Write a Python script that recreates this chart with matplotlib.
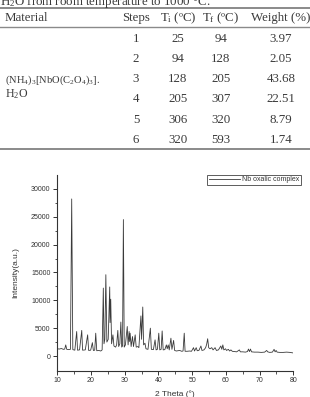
import matplotlib
matplotlib.use("Agg")
import matplotlib.pyplot as plt
from matplotlib.lines import Line2D

plt.rcParams['mathtext.fontset'] = 'custom'
plt.rcParams['mathtext.rm'] = 'Liberation Serif'
plt.rcParams['mathtext.it'] = 'Liberation Serif:italic'

# ---------------- table data ----------------
caption = "H$_\\mathregular{2}$O from room temperature to 1000 °C."
headers = ["Material", "Steps", "T$_\\mathregular{i}$ (ºC)", "T$_\\mathregular{f}$ (ºC)", "Weight (%)"]
material_lines = ["(NH$_\\mathregular{4}$)$_\\mathregular{3}$[NbO(C$_\\mathregular{2}$O$_\\mathregular{4}$)$_\\mathregular{3}$].",
                  "H$_\\mathregular{2}$O"]
steps = [1, 2, 3, 4, 5, 6]
t_initial = [25, 94, 128, 205, 306, 320]
t_final = [94, 128, 205, 307, 320, 593]
weight_loss = ["3.97", "2.05", "43.68", "22.51", "8.79", "1.74"]

# ---------------- XRD trace (vertices) ----------------
two_theta = [10.0, 10.6, 11.2, 11.8, 12.2, 12.5, 12.8, 13.3, 13.9, 14.27, 14.6, 15.2, 15.75, 16.0,
             16.6, 17.25, 17.5, 18.3, 19.0, 19.3, 19.9, 20.4, 20.7, 21.1, 21.4, 21.7, 22.3, 22.9,
             23.3, 23.65, 23.85, 24.1, 24.4, 24.7, 25.1, 25.55, 25.65, 25.85, 26.1, 26.5, 26.8,
             27.3, 27.6, 27.95, 28.2, 28.55, 28.85, 29.1, 29.35, 29.6, 29.85, 30.2, 30.75, 31.0,
             31.3, 31.45, 31.6, 31.9, 32.3, 32.6, 33.1, 33.4, 33.9, 34.2, 34.8, 35.0, 35.35, 35.6,
             36.0, 36.3, 36.9, 37.6, 37.9, 38.5, 39.0, 39.3, 39.7, 40.1, 40.4, 40.8, 41.1, 41.4,
             41.9, 42.35, 42.6, 42.9, 43.2, 43.7, 44.0, 44.5, 44.8, 45.3, 45.8, 46.3, 46.9, 47.3,
             47.65, 47.9, 48.5, 49.2, 49.8, 50.4, 50.7, 51.2, 51.5, 52.0, 52.6, 52.9, 53.5, 54.0,
             54.3, 54.6, 54.9, 55.3, 55.8, 56.2, 56.8, 57.2, 57.8, 58.2, 58.5, 58.8, 59.1, 59.4,
             59.9, 60.2, 60.75, 61.1, 61.5, 61.9, 62.5, 63.2, 64.0, 64.3, 65.0, 65.8, 66.4, 66.7,
             67.0, 67.3, 67.6, 68.5, 69.5, 70.5, 71.5, 72.1, 72.4, 73.0, 73.8, 74.3, 74.6, 74.9,
             75.2, 76.0, 77.0, 78.0, 79.0, 80.0]
intensity = [1300, 1250, 1350, 1200, 1250, 2000, 1200, 1150, 1200, 28200, 1150, 1050, 4400, 1050,
             1100, 4600, 1050, 1100, 3800, 1000, 1050, 2400, 1000, 1050, 4100, 950, 1000, 900,
             1100, 12200, 2200, 3000, 14600, 2500, 3000, 12400, 6000, 10200, 2200, 3800, 1800,
             1600, 2000, 4600, 1700, 2200, 6100, 1600, 1800, 24500, 1600, 2000, 5300, 2000,
             4400, 2600, 4100, 1700, 3500, 1700, 3800, 1600, 1700, 1500, 7200, 3000, 8800, 2000,
             2300, 1300, 1200, 5000, 1200, 1150, 2900, 1100, 1200, 4100, 1100, 1200, 4500, 1100,
             1150, 2000, 1300, 2000, 1100, 3200, 1200, 2800, 1000, 900, 950, 1000, 850, 900,
             4100, 850, 850, 900, 850, 1500, 900, 1500, 950, 1000, 1800, 1000, 1100, 1500,
             2100, 3100, 1500, 1300, 1500, 1100, 1500, 1000, 1100, 1500, 1800, 1200, 2000, 1100,
             1300, 1000, 1200, 900, 1100, 850, 800, 750, 1100, 750, 750, 700, 800, 1250,
             800, 1250, 750, 700, 700, 650, 700, 1000, 750, 650, 700, 1200, 750, 1000,
             700, 650, 650, 700, 650, 550]

x_ticks = [10, 20, 30, 40, 50, 60, 70, 80]
y_ticks = [0, 5000, 10000, 15000, 20000, 25000, 30000]
series_label = "Nb oxalic complex"

W, H = 310, 397
fig = plt.figure(figsize=(W / 100, H / 100), dpi=100)

def fx(px):
    return px / W

def fy(py):
    return 1 - py / H

serif = 'Liberation Serif'
tcol = '#3a3a3a'
fs = 9.3

# caption (partially cut at top, as in the reference)
fig.text(fx(0), fy(5), caption, family=serif, fontsize=fs, color=tcol, va='baseline', ha='left')

# table rules
for py, lw in [(8, 1.4), (27, 1.0), (149, 1.4)]:
    fig.add_artist(Line2D([0, 1], [fy(py), fy(py)], color='#8a8a8a', lw=lw))

col_x = [fx(5), fx(136), fx(178), fx(221), fx(281)]
header_y = fy(18)
fig.text(col_x[0], header_y, headers[0], family=serif, fontsize=fs, color=tcol, ha='left', va='center')
for i in range(1, 5):
    fig.text(col_x[i], header_y, headers[i], family=serif, fontsize=fs, color=tcol, ha='center', va='center')

row_py = [39, 59, 79, 99, 120, 140]
for r in range(6):
    y = fy(row_py[r])
    fig.text(col_x[1], y, str(steps[r]), family=serif, fontsize=fs, color=tcol, ha='center', va='center')
    fig.text(col_x[2], y, str(t_initial[r]), family=serif, fontsize=fs, color=tcol, ha='center', va='center')
    fig.text(col_x[3], y, str(t_final[r]), family=serif, fontsize=fs, color=tcol, ha='center', va='center')
    fig.text(col_x[4], y, weight_loss[r], family=serif, fontsize=fs, color=tcol, ha='center', va='center')

fig.text(col_x[0], fy(80), material_lines[0], family=serif, fontsize=7.6, color=tcol, ha='left', va='center')
fig.text(col_x[0], fy(94), material_lines[1], family=serif, fontsize=8.6, color=tcol, ha='left', va='center')

# ---------------- XRD plot ----------------
left, right = 57.3, 293.3
top, bottom = 175, 370.5
ax = fig.add_axes([fx(left), fy(bottom), fx(right - left), (bottom - top) / H])
ax.plot(two_theta, intensity, color='#3a3a3a', lw=0.6, label=series_label)
ax.set_xlim(10, 80)
ax.set_ylim(-2600, 32500)
ax.set_xticks(x_ticks)
ax.set_yticks(y_ticks)
ax.set_xticks([15, 25, 35, 45, 55, 65, 75], minor=True)
ax.set_yticks([2500, 7500, 12500, 17500, 22500, 27500], minor=True)
for s in ['top', 'right']:
    ax.spines[s].set_visible(False)
for s in ['left', 'bottom']:
    ax.spines[s].set_linewidth(0.8)
    ax.spines[s].set_color('#333333')
sans = 'Liberation Sans'
ax.tick_params(which='major', direction='out', length=3, width=0.7, labelsize=5, colors='#333333', pad=2)
ax.tick_params(which='minor', direction='out', length=1.8, width=0.6, colors='#333333')
for lab in ax.get_xticklabels() + ax.get_yticklabels():
    lab.set_family(sans)
ax.set_xlabel("2 Theta (°)", family=sans, fontsize=6, color='#333333', labelpad=4)
ax.set_ylabel("Intensity(a.u.)", family=sans, fontsize=6, color='#333333', labelpad=8)
leg = ax.legend(loc='upper right', bbox_to_anchor=(fx(301), fy(174.5)), bbox_transform=fig.transFigure,
                prop={'family': sans, 'size': 5}, frameon=True, fancybox=False,
                handlelength=4.5, handletextpad=0.3, borderpad=0.25, borderaxespad=0)
leg.get_frame().set_edgecolor('#333333')
leg.get_frame().set_linewidth(0.7)
for t in leg.get_texts():
    t.set_color('#333333')

fig.savefig("out.png", dpi=100)
